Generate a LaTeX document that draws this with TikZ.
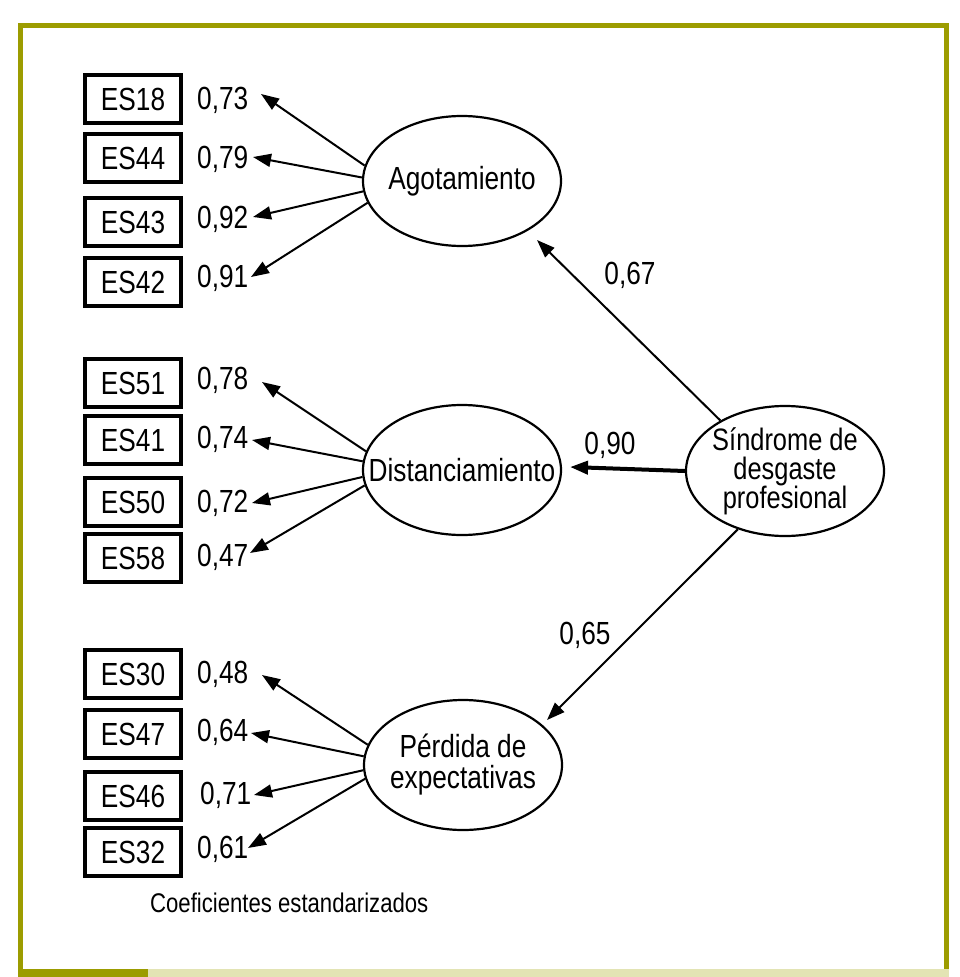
\documentclass[tikz,border=0pt]{standalone}
\usepackage{fontspec}
\setmainfont{Liberation Sans}[FakeStretch=0.82]
\usetikzlibrary{arrows.meta,shapes.geometric}
\definecolor{frameolive}{RGB}{156,156,0}
\definecolor{bandlight}{RGB}{227,228,180}
\begin{document}
\begin{tikzpicture}[x=1pt,y=-1pt,
  obs/.style={draw,line width=4pt,minimum width=96pt,minimum height=48pt,inner sep=0pt,
    text height=23pt,text depth=0pt,font=\fontsize{32}{34}\selectfont},
  lat/.style={draw,ellipse,line width=2.2pt,minimum width=198pt,minimum height=130pt,
    inner xsep=-30pt,inner ysep=-20pt,align=center},
  coef/.style={inner sep=0pt,anchor=west,text height=23pt,text depth=0pt,font=\fontsize{32}{34}\selectfont},
  pathlab/.style={inner sep=0pt,text height=23pt,text depth=0pt,font=\fontsize{32}{34}\selectfont},
  conn/.style={line width=2pt,-{Triangle[length=18pt,width=13pt]}},
  line join=miter]
\useasboundingbox (0,0) rectangle (960,977);
% frame
\draw[frameolive,line width=5pt] (20.5,969) -- (20.5,25.5) -- (946.5,25.5) -- (946.5,969);
\fill[bandlight] (148,969) rectangle (949,977);
\fill[frameolive] (18,969) rectangle (148,977);

% latent variables
\node[lat,font=\fontsize{32}{30}\selectfont] (agot) at (462,181) {Agotamiento};
\node[lat,font=\fontsize{32}{30}\selectfont] (dist) at (462,470) {Distanciamiento};
\node[lat,font=\fontsize{32}{31}\selectfont] (perd) at (463,765) {Pérdida de\\expectativas};
\node[lat,font=\fontsize{31}{29}\selectfont] (sind) at (785,471) {Síndrome de\\desgaste\\profesional};

% observed variables
\node[obs] (es18) at (133,99) {ES18};
\node[obs] (es44) at (133,158) {ES44};
\node[obs] (es43) at (133,222) {ES43};
\node[obs] (es42) at (133,282) {ES42};
\node[obs] (es51) at (133,383) {ES51};
\node[obs] (es41) at (133,440) {ES41};
\node[obs] (es50) at (133,502) {ES50};
\node[obs] (es58) at (133,558) {ES58};
\node[obs] (es30) at (133,674) {ES30};
\node[obs] (es47) at (133,734) {ES47};
\node[obs] (es46) at (133,796) {ES46};
\node[obs] (es32) at (133,852) {ES32};

% loadings
\node[coef] (c18) at (197,98) {0,73};
\node[coef] (c44) at (197,157) {0,79};
\node[coef] (c43) at (197,217) {0,92};
\node[coef] (c42) at (197,276) {0,91};
\node[coef] (c51) at (197,378) {0,78};
\node[coef] (c41) at (197,437) {0,74};
\node[coef] (c50) at (197,501) {0,72};
\node[coef] (c58) at (197,555) {0,47};
\node[coef] (c30) at (197,672) {0,48};
\node[coef] (c47) at (197,730) {0,64};
\node[coef] (c46) at (200,793) {0,71};
\node[coef] (c32) at (197,847) {0,61};

% arrow end points
\coordinate (t18) at (261,94);
\coordinate (t44) at (253,157);
\coordinate (t43) at (253,217);
\coordinate (t42) at (251,277);
\coordinate (t51) at (262,382);
\coordinate (t41) at (252,440);
\coordinate (t50) at (252,503);
\coordinate (t58) at (250,553);
\coordinate (t30) at (262,675);
\coordinate (t47) at (251,733);
\coordinate (t46) at (254,795);
\coordinate (t32) at (248,848);

\draw[conn] (agot.171) -- (t18);
\draw[conn] (agot.178) -- (t44);
\draw[conn] (agot.186) -- (t43);
\draw[conn] (agot.193) -- (t42);
\draw[conn] (dist.169) -- (t51);
\draw[conn] (dist.175) -- (t41);
\draw[conn] (dist.184) -- (t50);
\draw[conn] (dist.189) -- (t58);
\draw[conn] (perd.168) -- (t30);
\draw[conn] (perd.175) -- (t47);
\draw[conn] (perd.183) -- (t46);
\draw[conn] (perd.188) -- (t32);

% structural paths
\coordinate (ta) at (537,240);
\coordinate (td) at (570,467);
\coordinate (tp) at (547,720);
\draw[conn] (sind.142) -- (ta);
\draw[conn,line width=4pt] (sind.west) -- (td);
\draw[conn] (sind.231) -- (tp);
\node[pathlab] (l67) at (630,273) {0,67};
\node[pathlab] (l90) at (610,443) {0,90};
\node[pathlab] (l65) at (585,633) {0,65};

% caption
\node[inner sep=0pt,anchor=west,text height=19pt,text depth=0pt,font=\fontsize{27}{29}\selectfont] (cap) at (150,903) {Coeficientes estandarizados};
\end{tikzpicture}
\end{document}
